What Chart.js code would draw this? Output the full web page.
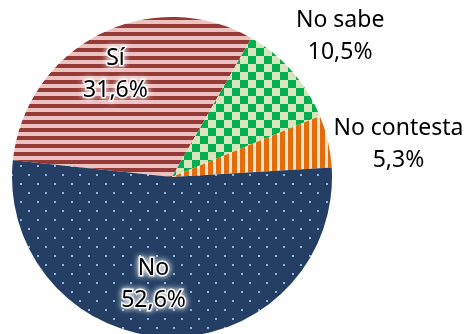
<!DOCTYPE html>
<html>
<head>
<meta charset="utf-8">
<script src="https://cdn.jsdelivr.net/npm/chart.js@4.4.1/dist/chart.umd.min.js"></script>
<style>
  html, body { margin: 0; padding: 0; background: #fff; overflow: hidden; }
  #wrap { width: 466px; height: 334px; position: relative; }
</style>
</head>
<body>
<div id="wrap"><canvas id="pie"></canvas></div>
<script>
/* Survey answers, share of responses (%) */
var LABELS = ['Sí', 'No sabe', 'No contesta', 'No'];
var VALUES = [31.6, 10.5, 5.3, 52.6];
var VALUE_TEXT = ['31,6%', '10,5%', '5,3%', '52,6%'];

/* label placement: radius factor and small nudge, per slice */
var LABEL_RADIUS = [0.72, 1.35, 1.42, 0.67];
var LABEL_NUDGE = [[-4, 0], [6, 2], [5, 18], [-16, 0]];
var LABEL_GLOW = [true, false, false, true];

function makePattern(w, h, draw) {
  var c = document.createElement('canvas');
  c.width = w; c.height = h;
  var g = c.getContext('2d');
  draw(g, w, h);
  return document.getElementById('pie').getContext('2d').createPattern(c, 'repeat');
}

var hStripes = makePattern(8, 8, function(g) {
  g.fillStyle = '#ecc2c1'; g.fillRect(0, 0, 8, 8);
  g.fillStyle = '#963a38'; g.fillRect(0, 0, 8, 4);
});
var checks = makePattern(16, 16, function(g) {
  g.fillStyle = '#d8e4bc'; g.fillRect(0, 0, 16, 16);
  g.fillStyle = '#00b050'; g.fillRect(0, 0, 8, 8); g.fillRect(8, 8, 8, 8);
});
var vStripes = makePattern(8, 8, function(g) {
  g.fillStyle = '#fde4cc'; g.fillRect(0, 0, 8, 8);
  g.fillStyle = '#e46c0a'; g.fillRect(0, 0, 5, 8);
});
var dots = makePattern(17, 18, function(g) {
  g.fillStyle = '#243f63'; g.fillRect(0, 0, 17, 18);
  g.fillStyle = '#8fb4e3';
  g.fillRect(3, 3, 2, 2);
  g.fillRect(11, 12, 2, 2);
});

var sliceLabels = {
  id: 'sliceLabels',
  afterDatasetsDraw: function(chart) {
    var ctx = chart.ctx;
    var arcs = chart.getDatasetMeta(0).data;
    ctx.save();
    ctx.font = '23px "Noto Sans"';
    ctx.textAlign = 'center';
    ctx.textBaseline = 'middle';
    for (var i = 0; i < arcs.length; i++) {
      var a = arcs[i].getProps(['x', 'y', 'startAngle', 'endAngle', 'outerRadius'], true);
      var mid = (a.startAngle + a.endAngle) / 2;
      var r = a.outerRadius * LABEL_RADIUS[i];
      var x = a.x + Math.cos(mid) * r + LABEL_NUDGE[i][0];
      var y = a.y + Math.sin(mid) * r + LABEL_NUDGE[i][1];
      var lines = [LABELS[i], VALUE_TEXT[i]];
      for (var k = 0; k < lines.length; k++) {
        var ly = y + (k - 0.5) * 32;
        if (LABEL_GLOW[i]) {
          ctx.shadowColor = 'rgba(255,255,255,1)';
          ctx.shadowBlur = 6;
          ctx.fillStyle = '#fff';
          ctx.lineWidth = 3;
          ctx.strokeStyle = 'rgba(255,255,255,0.9)';
          ctx.strokeText(lines[k], x, ly);
          ctx.fillText(lines[k], x, ly);
          ctx.shadowBlur = 0;
        }
        ctx.fillStyle = '#000';
        ctx.fillText(lines[k], x, ly);
      }
    }
    ctx.restore();
  }
};

new Chart(document.getElementById('pie').getContext('2d'), {
  type: 'pie',
  data: {
    labels: LABELS,
    datasets: [{
      data: VALUES,
      backgroundColor: [hStripes, checks, vStripes, dots],
      borderWidth: 0
    }]
  },
  options: {
    responsive: true,
    maintainAspectRatio: false,
    animation: false,
    rotation: -84,
    radius: 160,
    layout: { padding: { left: 12, right: 134, top: 20, bottom: 0 } },
    plugins: {
      legend: { display: false },
      tooltip: { enabled: false }
    }
  },
  plugins: [sliceLabels]
});
</script>
</body>
</html>
